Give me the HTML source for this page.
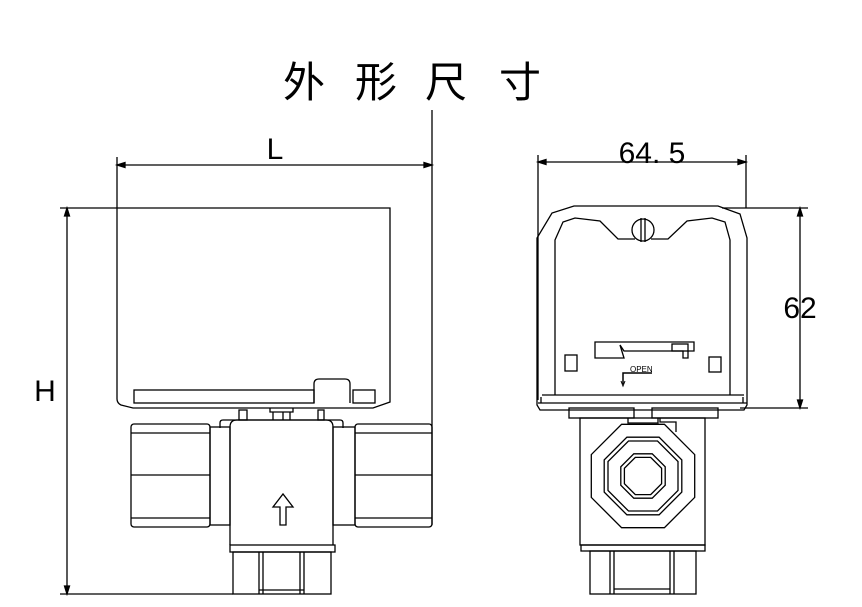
<!DOCTYPE html>
<html><head><meta charset="utf-8"><style>
html,body{margin:0;padding:0;background:#fff;}
svg{display:block}
</style></head><body>
<svg width="862" height="607" viewBox="0 0 862 607" xmlns="http://www.w3.org/2000/svg" fill="none" stroke="#000" stroke-width="1.3">
<g font-family="'Noto Sans CJK SC',sans-serif" font-size="42" fill="#000" stroke="none" text-anchor="middle">
<text x="304" y="97">外</text><text x="376" y="97">形</text><text x="446" y="97">尺</text><text x="520" y="97">寸</text>
</g>
<!-- L dim -->
<line x1="117" y1="157" x2="117" y2="208"/>
<line x1="432" y1="110" x2="432" y2="525"/>
<line x1="117" y1="165" x2="432" y2="165"/>
<path d="M117,165 l8,-2.5 v5z M432,165 l-8,-2.5 v5z" fill="#000"/>
<text x="275" y="159" font-family="'Liberation Sans',sans-serif" font-size="30" fill="#000" stroke="none" text-anchor="middle">L</text>
<!-- H dim -->
<line x1="60" y1="208" x2="117" y2="208"/>
<line x1="60" y1="594" x2="233" y2="594"/>
<line x1="67" y1="208" x2="67" y2="594"/>
<path d="M67,208 l-2.5,8 h5z M67,594 l-2.5,-8 h5z" fill="#000"/>
<text x="45" y="401" font-family="'Liberation Sans',sans-serif" font-size="30" fill="#000" stroke="none" text-anchor="middle">H</text>
<!-- left view actuator -->
<path d="M117,208 H390 V402 l-17,6 H133 l-12,-3 q-4,-2 -4,-6 Z"/>
<rect x="134" y="390" width="180" height="13"/>
<path d="M314,403 V384 q0,-5 5,-5 h26 q5,0 5,5 V403"/>
<rect x="353" y="390" width="22" height="13"/>
<rect x="239" y="410" width="8" height="10"/>
<rect x="318" y="410" width="6" height="10"/>
<path d="M270,408 v4 h23 v-4 M273,412 v8 M283,412 v8 M290,412 v8"/>
<!-- body -->
<path d="M220,428 v-5 q0,-3 3,-3 h117 q3,0 3,3 v5"/>
<path d="M230,545 V427 q0,-7 7,-7 h89 q7,0 7,7 V545"/>
<rect x="210" y="427" width="20" height="98"/>
<rect x="333" y="427" width="22" height="98"/>
<rect x="131" y="424" width="79" height="103" rx="3"/>
<line x1="131" y1="433" x2="210" y2="433"/><line x1="131" y1="475" x2="210" y2="475"/><line x1="131" y1="518" x2="210" y2="518"/>
<rect x="355" y="424" width="77" height="103" rx="3"/>
<line x1="355" y1="433" x2="432" y2="433"/><line x1="355" y1="475" x2="432" y2="475"/><line x1="355" y1="518" x2="432" y2="518"/>
<path d="M280,525 v-18 h-7 l10,-13 l10,13 h-7 v18 z"/>
<rect x="230" y="545" width="105" height="7"/>
<rect x="233" y="552" width="98" height="42"/>
<path d="M259,552 v42 M263,552 v42 M300,552 v42 M304,552 v42 M259,590 h45"/>
<!-- right dims -->
<line x1="538" y1="155" x2="538" y2="400"/>
<line x1="746" y1="155" x2="746" y2="208"/>
<line x1="538" y1="162" x2="746" y2="162"/>
<path d="M538,162 l8,-2.5 v5z M746,162 l-8,-2.5 v5z" fill="#000"/>
<text x="652" y="163" font-family="'Liberation Sans',sans-serif" font-size="30" fill="#000" stroke="none" text-anchor="middle">64. 5</text>
<line x1="722" y1="208" x2="808" y2="208"/>
<line x1="740" y1="408" x2="808" y2="408"/>
<line x1="800" y1="208" x2="800" y2="408"/>
<path d="M800,208 l-2.5,8 h5z M800,408 l-2.5,-8 h5z" fill="#000"/>
<text x="800" y="318" font-family="'Liberation Sans',sans-serif" font-size="30" fill="#000" stroke="none" text-anchor="middle">62</text>
<!-- right view actuator -->
<path d="M537,405 V238 l15,-25 l22,-7 H718 l22,8 l7,24 V405 l-3,5 H540 z"/>
<path d="M555,395 V240 l8,-18 l12,-4 l25,3 l18,18 h17 M651,239 h17 l19,-18 l25,-3 l13,4 l5,18 V395"/>
<circle cx="643" cy="230" r="11"/>
<path d="M641,218 v24 M645,218 v24"/>
<path d="M541,397 v6 M743,397 v6 M542,395 H744 M538,403 H747"/>
<path d="M595,342 H694 V351 H688 V358 H683 V351 H624 l-4,-6 l4,13 H595 z"/>
<rect x="672" y="344" width="16" height="7"/>
<rect x="565" y="355" width="12" height="16"/>
<rect x="709" y="357" width="12" height="15"/>
<text x="630" y="372" font-family="'Liberation Sans',sans-serif" font-size="8" fill="#000" stroke="none">OPEN</text>
<path d="M652,373 H623 V384" stroke-width="1.5"/>
<path d="M621,381 l2,5 l2,-5" stroke-width="1"/>
<rect x="569" y="408" width="65" height="10"/>
<rect x="652" y="408" width="66" height="10"/>
<!-- right body -->
<rect x="580" y="418" width="125" height="127"/>
<path d="M628,418 v5 h30 v-5 M660,418 v4 h16 v10"/>
<g transform="translate(643,476)">
<polygon points="21.4,-51.7 -21.4,-51.7 -51.7,-21.4 -51.7,21.4 -21.4,51.7 21.4,51.7 51.7,21.4 51.7,-21.4"/>
<polygon points="16.1,-38.8 -16.1,-38.8 -38.8,-16.1 -38.8,16.1 -16.1,38.8 16.1,38.8 38.8,16.1 38.8,-16.1"/>
<polygon points="14.5,-35 -14.5,-35 -35,-14.5 -35,14.5 -14.5,35 14.5,35 35,14.5 35,-14.5"/>
<polygon points="9.2,-22.2 -9.2,-22.2 -22.2,-9.2 -22.2,9.2 -9.2,22.2 9.2,22.2 22.2,9.2 22.2,-9.2"/>
<polygon points="7.7,-18.6 -7.7,-18.6 -18.6,-7.7 -18.6,7.7 -7.7,18.6 7.7,18.6 18.6,7.7 18.6,-7.7"/>
</g>
<rect x="581" y="545" width="124" height="6"/>
<rect x="590" y="551" width="106" height="43"/>
<path d="M610,551 v43 M614,551 v43 M670,551 v43 M674,551 v43 M614,589 h56"/>
</svg>
</body></html>
